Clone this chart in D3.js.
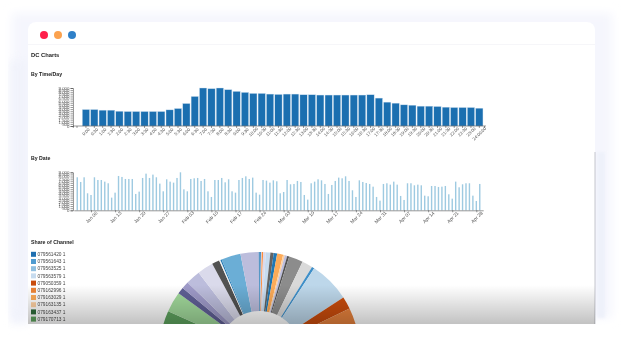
<!DOCTYPE html>
<html>
<head>
<meta charset="utf-8">
<script src="https://cdn.jsdelivr.net/npm/d3@7"></script>
<style>
  html, body { margin: 0; padding: 0; background: #fff; }
  svg { display: block; filter: blur(0.35px); font-family: "Liberation Sans", Arial, sans-serif; }
  .axis path, .axis line { stroke: #333; stroke-width: 0.5; }
  .axis text { fill: #555; font-size: 4.4px; }
  .heading { fill: #222; font-weight: bold; font-size: 5.2px; }
  .legend-text { fill: #444; font-size: 4.8px; }
</style>
</head>
<body>
<div class="canvas"></div>
<script>
// data
const timeLabels = ['0:00','0:30','1:00','1:30','2:00','2:30','3:00','3:30','4:00','4:30','5:00','5:30',
  '6:00','6:30','7:00','7:30','8:00','8:30','9:00','9:30','10:00','10:30','11:00','11:30',
  '12:00','12:30','13:00','13:30','14:00','14:30','15:00','15:30','16:00','16:30','17:00','17:30',
  '18:00','18:30','19:00','19:30','20:00','20:30','21:00','21:30','22:00','22:30','23:00','24:00:00'];
const timeValues = [3900,3900,3750,3750,3500,3430,3430,3430,3430,3430,3820,4140,
  5330,7000,9000,8840,9000,8600,8200,7960,7720,7720,7560,7480,
  7560,7560,7400,7400,7330,7330,7330,7330,7330,7330,7400,6610,
  5650,5410,5010,4930,4700,4700,4620,4460,4380,4380,4380,4220];

const yTicks = [0,500,1000,1500,2000,2500,3000,3500,4000,4500,5000,5500,6000,6500,7000,7500,8000,8500,9000];

const dateValues = [7820,6710,7820,4030,3630,7820,7180,7180,6790,6400,3000,4180,8130,7900,7420,7420,7420,3870,4420,7660,
  8680,7660,8450,7820,6320,4500,7340,6790,6550,7660,9000,4970,4500,7420,7580,7660,6950,7420,4500,3160,
  7180,7180,7660,6630,7340,4500,4180,7180,7660,8050,7420,7740,4180,3710,7180,7030,6550,7100,6870,4030,
  4340,7180,6160,6240,6950,6710,3630,2530,6400,6790,7340,7100,6240,3870,6000,6950,7740,7580,8050,6950,
  4740,3160,7100,6710,6470,6240,5600,3160,2290,6240,6400,6080,6790,6080,3400,2450,6400,6400,5920,6080,
  5920,3470,3320,5760,5760,5530,5600,5760,3790,2760,6790,5450,6160,6400,6400,3470,2210,6240];
const firstDate = new Date(2013, 0, 2);

const legendLabels = ['079561420 1','079561643 1','079563525 1','079563579 1','079050359 1',
  '079162996 1','079163029 1','079163135 1','079163437 1','079170713 1'];
const legendColors = ['#1f6fb0','#4f9bd0','#8fbfe0','#c6dbef','#c94c0c','#ee8436','#fdab58','#fdd0a2','#2f6b3b','#5ea35e'];

// share of each slice, clockwise from the top (the lower part is hidden by the card edge)
const sliceShares = [0.8,0.5,0.8,1.5,2.7,1.9,2,3.5,1,1.4,1.2,8.2,6.2,1.5,23.8,7.2,35.8,
  40,40,40,40,34,11.9,3.9,4.2,8.5,9.3,4.4,0.8,0.7,11.3,10.6,0.4];
const sliceColors = ['#1f77b4','#dadaeb','#fd8d3c','#dadaeb','#c6dbef','#636363','#1f77b4','#fdab58','#fdd0a2','#bcbddc','#525252',
  '#8c8c8c','#d9d9d9','#3f8fc8','#bdd7ea','#c94c0c','#e6813c',
  '#fdab58','#fdd0a2','#2f6b3b','#5ea35e','#5ea35e','#a1d99b','#5f5f95','#9e9ac8','#bcbddc','#dadaeb','#525252','#f0f0f0','#1f77b4','#6baed6','#bcbddc','#1f77b4'];

// select svg container first
const svg = d3.select('.canvas')
  .append('svg')
    .attr('width', 624)
    .attr('height', 361);

const defs = svg.append('defs');
defs.append('filter').attr('id', 'halo')
  .attr('x', '-10%').attr('y', '-10%').attr('width', '120%').attr('height', '120%')
  .append('feGaussianBlur').attr('stdDeviation', 5);
defs.append('filter').attr('id', 'soft')
  .attr('x', '-50%').attr('y', '-10%').attr('width', '200%').attr('height', '120%')
  .append('feGaussianBlur').attr('stdDeviation', 1.5);
defs.append('clipPath').attr('id', 'card-clip')
  .append('rect').attr('x', 28).attr('y', 22).attr('width', 567).attr('height', 302);
const fade = defs.append('linearGradient').attr('id', 'fade')
  .attr('x1', 0).attr('y1', 0).attr('x2', 0).attr('y2', 1);
fade.append('stop').attr('offset', 0).attr('stop-color', '#000').attr('stop-opacity', 0);
fade.append('stop').attr('offset', 1).attr('stop-color', '#000').attr('stop-opacity', 0.24);

// pale frame behind the card
svg.append('rect')
  .attr('x', 12).attr('y', 13).attr('width', 600).attr('height', 305)
  .attr('fill', '#f5f6fd')
  .attr('filter', 'url(#halo)');
svg.append('rect')
  .attr('x', 10).attr('y', 60).attr('width', 18).attr('height', 264)
  .attr('fill', '#f1f3fb')
  .attr('filter', 'url(#halo)');
svg.append('rect')
  .attr('x', 597).attr('y', 152).attr('width', 8).attr('height', 166)
  .attr('fill', '#eef1fa')
  .attr('filter', 'url(#soft)');

// the white card
svg.append('path')
  .attr('d', 'M28,324V30a8,8 0 0 1 8,-8H587a8,8 0 0 1 8,8V324Z')
  .attr('fill', '#fff');
svg.append('line')
  .attr('x1', 28).attr('x2', 595).attr('y1', 44.5).attr('y2', 44.5)
  .attr('stroke', '#f2f2f6').attr('stroke-width', 0.7);
svg.append('line')
  .attr('x1', 595).attr('x2', 595).attr('y1', 152).attr('y2', 324)
  .attr('stroke', '#aeb0b8').attr('stroke-width', 0.7);

// window buttons
svg.selectAll('circle.dot')
  .data(['#ff1f4b', '#fba24f', '#2f80c8'])
  .enter()
  .append('circle')
    .attr('class', 'dot')
    .attr('cx', (d, i) => 44 + i * 14)
    .attr('cy', 35)
    .attr('r', 4)
    .attr('fill', d => d);

// headings
const headings = [['DC Charts', 57, 5.8], ['By Time/Day', 75.5, 5.2], ['By Date', 160, 5.2], ['Share of Channel', 243.5, 5.2]];
svg.selectAll('text.heading')
  .data(headings)
  .enter()
  .append('text')
    .attr('class', 'heading')
    .attr('x', 31)
    .attr('y', d => d[1])
    .style('font-size', d => `${d[2]}px`)
    .text(d => d[0]);

const numberFormat = d3.format(',');

const drawYAxis = (y, left) => {
  svg.append('g')
    .attr('class', 'axis')
    .attr('transform', `translate(${left}, 0)`)
    .call(d3.axisLeft(y).tickValues(yTicks).tickFormat(numberFormat).tickSize(2.5).tickPadding(1));
};

// labels are turned around their middle, right under the tick
const rotateLabels = (group, drop) => {
  group.selectAll('.tick text')
    .attr('y', 0)
    .attr('dy', '0.35em')
    .attr('text-anchor', 'middle')
    .attr('transform', (d, i, nodes) => {
      const extra = nodes[i].textContent.length > 6 ? 2 : 0;
      return `translate(0, ${drop + extra}) rotate(-45)`;
    });
};

// --- By Time/Day ---
const timeX = d3.scaleBand()
  .domain(timeLabels)
  .range([81.76, 483.5])
  .paddingInner(0.13)
  .paddingOuter(0.065);
const timeY = d3.scaleLinear()
  .domain([0, 9000])
  .range([126, 88]);

svg.append('g')
  .selectAll('rect')
  .data(timeValues)
  .enter()
  .append('rect')
    .attr('x', (d, i) => timeX(timeLabels[i]))
    .attr('y', d => timeY(d))
    .attr('width', timeX.bandwidth())
    .attr('height', d => timeY(0) - timeY(d))
    .attr('fill', '#1b6fb0')
    .attr('stroke', '#cfe0f0')
    .attr('stroke-width', 0.4);

const timeAxis = svg.append('g')
  .attr('class', 'axis')
  .attr('transform', 'translate(0, 126)')
  .call(d3.axisBottom(timeX).tickSize(2).tickSizeOuter(0));
timeAxis.select('.domain').attr('d', 'M73,0H486');
timeAxis.selectAll('.lead')
  .data([73.3, 77, 484.5])
  .enter()
  .append('line')
    .attr('class', 'lead')
    .attr('x1', d => d).attr('x2', d => d)
    .attr('y1', 0).attr('y2', 2);
rotateLabels(timeAxis, 5.7);
drawYAxis(timeY, 73);

// --- By Date ---
const dateX = d3.scaleTime()
  .domain([new Date(2013, 0, 1), new Date(2013, 3, 30)])
  .range([73.8, 483.2]);
const dateY = d3.scaleLinear()
  .domain([0, 9000])
  .range([210.3, 172.3]);

svg.append('g')
  .selectAll('rect')
  .data(dateValues)
  .enter()
  .append('rect')
    .attr('x', (d, i) => dateX(d3.timeDay.offset(firstDate, i)) - 0.7)
    .attr('y', d => dateY(d))
    .attr('width', 1.4)
    .attr('height', d => dateY(0) - dateY(d))
    .attr('fill', '#9ecae1');

const dateAxis = svg.append('g')
  .attr('class', 'axis')
  .attr('transform', 'translate(0, 210.3)')
  .call(d3.axisBottom(dateX)
    .ticks(d3.timeWeek)
    .tickFormat(d3.timeFormat('%b %d'))
    .tickSize(2)
    .tickSizeOuter(0));
rotateLabels(dateAxis, 7);
dateAxis.selectAll('.tick text').style('font-size', '4.8px');
drawYAxis(dateY, 73);

// --- Share of Channel ---
const share = svg.append('g').attr('clip-path', 'url(#card-clip)');

const arc = d3.arc().innerRadius(41).outerRadius(100);
const pie = d3.pie().sort(null);

share.append('g')
  .attr('transform', 'translate(259.5, 352)')
  .selectAll('path')
  .data(pie(sliceShares))
  .enter()
  .append('path')
    .attr('d', arc)
    .attr('fill', (d, i) => sliceColors[i]);

const legend = share.selectAll('g.legend')
  .data(legendLabels)
  .enter()
  .append('g')
    .attr('class', 'legend')
    .attr('transform', (d, i) => `translate(31, ${251.8 + i * 7.2})`);
legend.append('rect')
  .attr('width', 5)
  .attr('height', 5)
  .attr('fill', (d, i) => legendColors[i]);
legend.append('text')
  .attr('class', 'legend-text')
  .attr('x', 6.5)
  .attr('y', 4.3)
  .text(d => d);

// grey fade over the bottom of the card
svg.append('rect')
  .attr('x', 28).attr('y', 285).attr('width', 567).attr('height', 39)
  .attr('fill', 'url(#fade)');
</script>
</body>
</html>
